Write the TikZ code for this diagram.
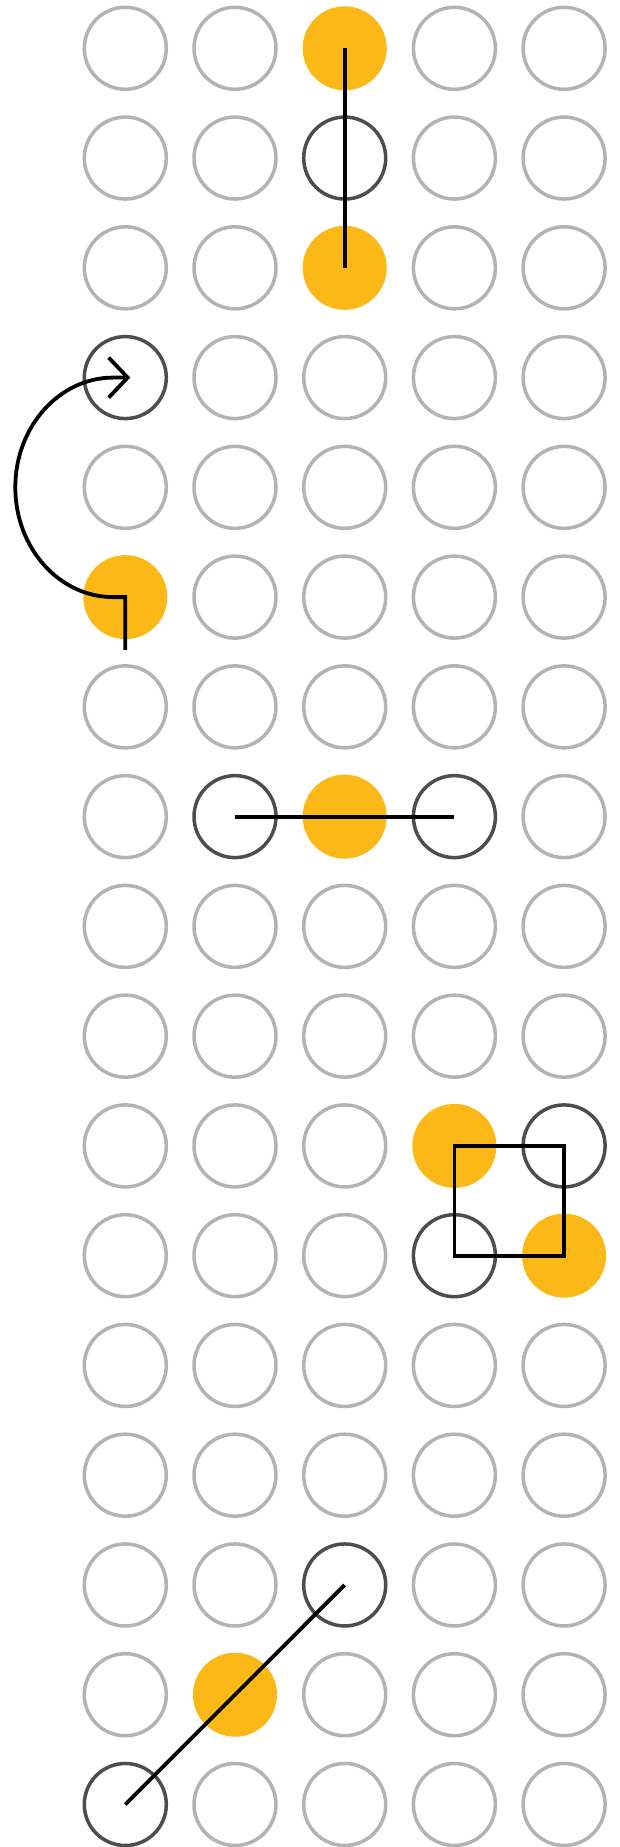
\documentclass[tikz,border=0pt]{standalone}
\usetikzlibrary{arrows.meta}
\definecolor{dotorange}{HTML}{FBB817}
\definecolor{ringgray}{HTML}{B3B3B3}
\definecolor{ringdark}{HTML}{4D4D4D}
\tikzset{
  grayring/.style={circle,draw=ringgray,line width=3.5pt,minimum size=82pt,inner sep=0pt},
  darkring/.style={circle,draw=ringdark,line width=3.5pt,minimum size=82pt,inner sep=0pt},
  orangedot/.style={circle,fill=dotorange,minimum size=84pt,inner sep=0pt},
  link/.style={draw=black,line width=3.8pt},
}
\makeatletter
\def\markspecial#1{\expandafter\def\csname sp@#1\endcsname{}}
\def\ifspecial#1{\ifcsname sp@#1\endcsname\expandafter\@firstoftwo\else\expandafter\@secondoftwo\fi}
\makeatother
\markspecial{0-2}\markspecial{1-2}\markspecial{2-2}
\markspecial{3-0}\markspecial{5-0}
\markspecial{7-1}\markspecial{7-2}\markspecial{7-3}
\markspecial{10-3}\markspecial{10-4}\markspecial{11-3}\markspecial{11-4}
\markspecial{14-2}\markspecial{15-1}\markspecial{16-0}
\begin{document}
\begin{tikzpicture}[x=1pt,y=-1pt]
\useasboundingbox (0,0) rectangle (620,1847);
\fill[white] (0,0) rectangle (620,1847);
\foreach \r in {0,...,16}{
  \foreach \c in {0,...,4}{
    \ifspecial{\r-\c}{}{\node[grayring] (n-\r-\c) at ({125.3+109.7*\c},{48.3+109.76*\r}) {};}
  }
}
% special cells
\node[orangedot] (n-0-2) at ({125.3+109.7*2},{48.3+109.76*0}) {};
\node[darkring]  (n-1-2) at ({125.3+109.7*2},{48.3+109.76*1}) {};
\node[orangedot] (n-2-2) at ({125.3+109.7*2},{48.3+109.76*2}) {};
\node[darkring]  (n-3-0) at ({125.3+109.7*0},{48.3+109.76*3}) {};
\node[orangedot] (n-5-0) at ({125.3+109.7*0},{48.3+109.76*5}) {};
\node[darkring]  (n-7-1) at ({125.3+109.7*1},{48.3+109.76*7}) {};
\node[orangedot] (n-7-2) at ({125.3+109.7*2},{48.3+109.76*7}) {};
\node[darkring]  (n-7-3) at ({125.3+109.7*3},{48.3+109.76*7}) {};
\node[orangedot] (n-10-3) at ({125.3+109.7*3},{48.3+109.76*10}) {};
\node[darkring]  (n-10-4) at ({125.3+109.7*4},{48.3+109.76*10}) {};
\node[darkring]  (n-11-3) at ({125.3+109.7*3},{48.3+109.76*11}) {};
\node[orangedot] (n-11-4) at ({125.3+109.7*4},{48.3+109.76*11}) {};
\node[darkring]  (n-14-2) at ({125.3+109.7*2},{48.3+109.76*14}) {};
\node[orangedot] (n-15-1) at ({125.3+109.7*1},{48.3+109.76*15}) {};
\node[darkring]  (n-16-0) at ({125.3+109.7*0},{48.3+109.76*16}) {};
% connectors
\draw[link] (n-0-2.center) -- (n-2-2.center);
\coordinate (tail) at (125.3,650);
\draw[link,-{Straight Barb[length=19pt,width=40pt]}] (tail) -- (n-5-0.center) -- ++(-12,0)
  arc[start angle=90,end angle=270,x radius=98,y radius=109.76] -- ([xshift=5pt]n-3-0.center);
\draw[link] (n-7-1.center) -- (n-7-3.center);
\draw[link] (n-10-3.center) -- (n-10-4.center) -- (n-11-4.center) -- (n-11-3.center) -- cycle;
\draw[link] (n-16-0.center) -- (n-14-2.center);
\end{tikzpicture}
\end{document}
